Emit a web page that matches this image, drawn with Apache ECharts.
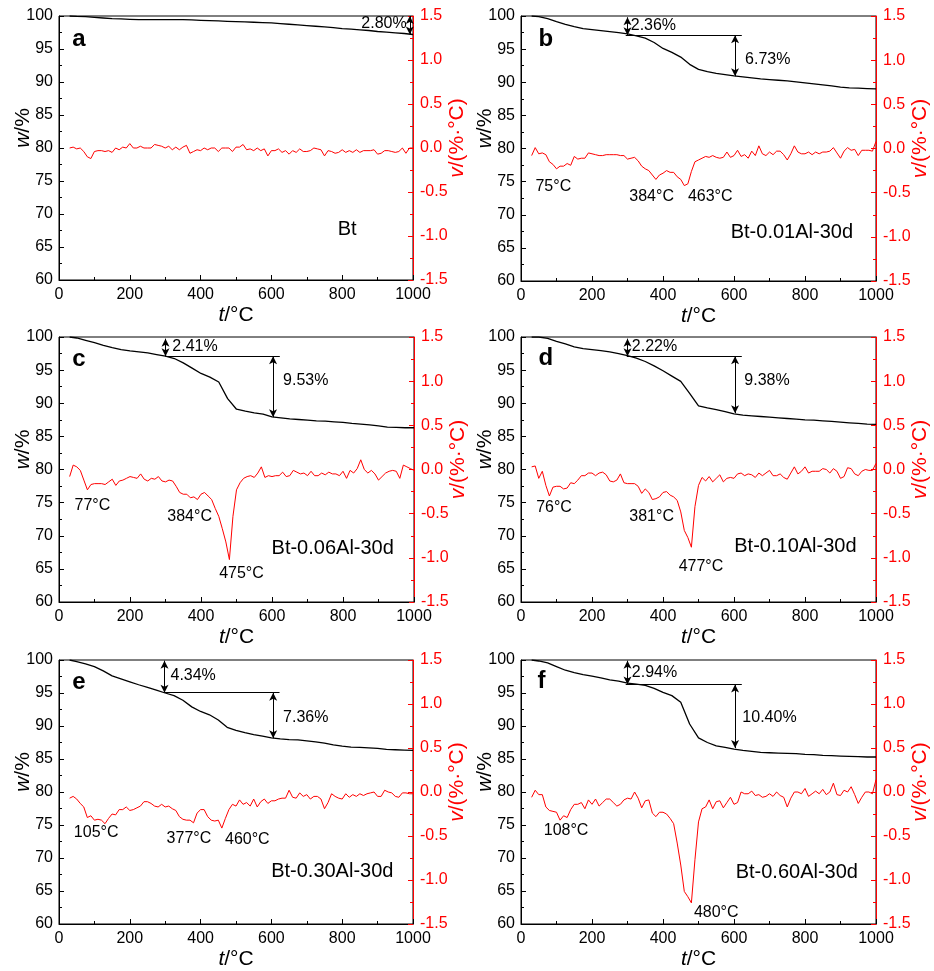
<!DOCTYPE html>
<html lang="en">
<head>
<meta charset="UTF-8">
<title>TG / DTG</title>
<script src="https://cdn.jsdelivr.net/npm/echarts@6/dist/echarts.min.js"></script>
<style>
    html, body { margin: 0; padding: 0; background: #fff; }
    #chart { width: 934px; height: 971px; }
</style>
</head>
<body>
<div id="chart"></div>
<script type="text/javascript">
// temperature grid of the DTG curves (°C)
var temps = [30,40,50,60,70,80,90,100,110,120,130,140,150,160,170,180,190,200,210,220,
    230,240,250,260,270,280,290,300,310,320,330,340,350,360,370,380,390,400,410,420,
    430,440,450,460,470,480,490,500,510,520,530,540,550,560,570,580,590,600,610,620,
    630,640,650,660,670,680,690,700,710,720,730,740,750,760,770,780,790,800,810,820,
    830,840,850,860,870,880,890,900,910,920,930,940,950,960,970,980,990,1000];
// temperature grid of the TG curves (°C)
var wTemps = [30,50,75,100,125,150,175,200,225,250,275,300,325,350,375,400,425,450,475,500,
    525,550,575,600,625,650,675,700,725,750,775,800,825,850,875,900,925,950,975,1000];

// TG: mass w/%
var wA = [100,99.95,99.9,99.8,99.7,99.6,99.55,99.5,99.45,99.45,99.45,99.45,99.45,99.45,99.4,99.35,99.3,99.25,99.2,99.15,
    99.1,99.05,99.0,98.95,98.85,98.75,98.65,98.55,98.45,98.35,98.25,98.1,98.0,97.9,97.8,97.65,97.55,97.45,97.35,97.2];
var wB = [100,99.9,99.6,99.15,98.75,98.4,98.1,97.95,97.8,97.65,97.5,97.3,97.0,96.65,96.0,95.1,94.5,93.8,92.7,91.95,
    91.6,91.35,91.15,90.95,90.8,90.65,90.5,90.4,90.3,90.2,90.05,89.9,89.75,89.6,89.45,89.25,89.15,89.1,89.05,89.0];
var wC = [100,99.85,99.5,99.15,98.75,98.4,98.1,97.9,97.75,97.6,97.35,97.1,96.75,96.1,95.3,94.5,93.95,93.2,90.7,89.1,
    88.8,88.55,88.35,87.95,87.8,87.65,87.55,87.45,87.35,87.3,87.2,87.1,86.95,86.85,86.75,86.6,86.4,86.35,86.3,86.3];
var wD = [100,100,99.8,99.35,98.95,98.5,98.25,98.1,97.95,97.75,97.5,97.2,96.8,96.3,95.65,94.9,94.1,93.3,91.5,89.6,
    89.3,89.05,88.75,88.4,88.2,88.1,88.0,87.9,87.8,87.7,87.6,87.5,87.45,87.35,87.25,87.15,87.05,86.95,86.85,86.8];
var wE = [100,99.75,99.4,99.0,98.35,97.6,97.15,96.7,96.25,95.85,95.45,95.0,94.6,93.9,92.9,92.2,91.7,90.9,89.8,89.35,
    89.0,88.7,88.45,88.2,88.05,87.95,87.9,87.75,87.6,87.4,87.15,86.95,86.8,86.75,86.7,86.6,86.45,86.4,86.35,86.3];
var wF = [100,99.85,99.55,99.0,98.45,98.1,97.8,97.55,97.3,97.0,96.8,96.5,96.35,96.15,95.7,95.1,94.6,93.6,90.3,88.2,
    87.5,87.0,86.75,86.5,86.3,86.15,86.0,85.95,85.9,85.85,85.8,85.7,85.65,85.55,85.5,85.45,85.4,85.35,85.3,85.3];

// DTG: v/(%·°C)
var vA = [0.00,0.01,-0.01,0.00,-0.04,-0.10,-0.12,-0.04,-0.03,-0.03,
    -0.04,-0.03,-0.05,0.00,-0.02,0.01,0.00,0.05,0.00,0.00,
    0.02,0.00,0.00,0.00,0.04,0.03,0.02,0.00,0.02,-0.02,
    0.01,-0.02,0.01,0.03,-0.06,-0.04,-0.02,-0.03,0.00,-0.02,
    0.00,0.00,-0.04,0.00,0.00,0.00,-0.04,0.01,0.01,0.04,
    -0.02,-0.01,-0.03,0.00,-0.03,-0.01,-0.09,-0.03,-0.03,-0.01,
    -0.05,-0.03,-0.07,-0.03,-0.05,-0.01,-0.04,-0.04,-0.03,0.00,
    -0.01,-0.02,-0.09,-0.03,-0.04,-0.06,-0.05,-0.02,-0.05,-0.03,
    -0.05,-0.02,-0.05,-0.03,-0.03,-0.03,-0.02,-0.07,-0.06,-0.03,
    -0.03,-0.04,-0.05,-0.04,0.00,-0.06,0.00,0.00];
var vB = [-0.08,0.01,-0.06,-0.05,-0.07,-0.15,-0.18,-0.23,-0.20,-0.20,
    -0.17,-0.19,-0.09,-0.12,-0.11,-0.11,-0.05,-0.06,-0.07,-0.08,
    -0.08,-0.07,-0.07,-0.07,-0.07,-0.08,-0.08,-0.12,-0.11,-0.10,
    -0.14,-0.20,-0.23,-0.25,-0.30,-0.35,-0.30,-0.28,-0.25,-0.27,
    -0.27,-0.32,-0.35,-0.42,-0.40,-0.26,-0.15,-0.13,-0.11,-0.09,
    -0.10,-0.08,-0.10,-0.11,-0.10,-0.04,-0.10,-0.08,-0.02,-0.09,
    -0.07,-0.11,-0.03,-0.08,0.03,-0.06,-0.08,-0.04,-0.07,-0.03,
    -0.03,-0.07,-0.13,-0.06,0.03,-0.04,-0.06,-0.06,-0.04,-0.07,
    -0.04,-0.06,-0.04,-0.04,-0.03,0.01,-0.05,-0.11,-0.03,0.01,
    -0.02,-0.01,-0.08,-0.02,-0.02,-0.02,-0.03,0.08];
var vC = [-0.08,0.05,0.03,-0.01,-0.12,-0.23,-0.17,-0.16,-0.16,-0.16,
    -0.17,-0.14,-0.11,-0.18,-0.13,-0.12,-0.10,-0.08,-0.09,-0.10,
    -0.05,-0.11,-0.13,-0.10,-0.11,-0.08,-0.13,-0.14,-0.12,-0.13,
    -0.19,-0.26,-0.28,-0.28,-0.32,-0.31,-0.34,-0.28,-0.26,-0.30,
    -0.34,-0.44,-0.53,-0.67,-0.82,-1.02,-0.53,-0.23,-0.15,-0.10,
    -0.08,-0.07,-0.09,-0.04,0.03,-0.09,-0.07,-0.08,-0.07,-0.07,
    -0.03,-0.08,-0.07,-0.01,-0.03,-0.05,-0.04,-0.07,-0.02,-0.07,
    -0.07,-0.04,-0.06,-0.03,-0.05,-0.05,-0.07,-0.02,-0.10,-0.01,
    -0.04,0.01,0.11,0.00,-0.04,-0.01,-0.05,-0.12,-0.08,-0.04,
    -0.02,-0.01,-0.02,-0.10,0.05,0.03,0.01,-0.01];
var vD = [0.03,0.04,-0.10,-0.02,-0.18,-0.30,-0.20,-0.19,-0.19,-0.22,
    -0.21,-0.15,-0.16,-0.12,-0.07,-0.07,-0.04,-0.04,-0.07,-0.04,
    -0.03,-0.06,-0.13,-0.14,-0.12,-0.05,-0.15,-0.16,-0.16,-0.16,
    -0.19,-0.27,-0.22,-0.26,-0.34,-0.33,-0.31,-0.26,-0.25,-0.29,
    -0.31,-0.35,-0.48,-0.69,-0.77,-0.88,-0.42,-0.18,-0.09,-0.13,
    -0.08,-0.14,-0.10,-0.06,-0.14,-0.10,-0.09,-0.10,-0.05,-0.04,
    -0.07,-0.05,-0.06,-0.09,-0.04,-0.07,-0.04,-0.01,-0.07,-0.07,
    -0.05,-0.09,-0.11,-0.04,0.03,-0.05,-0.02,0.03,-0.04,-0.02,
    -0.02,-0.02,0.01,0.00,-0.04,0.01,-0.02,-0.10,-0.08,0.02,
    0.01,-0.05,-0.07,-0.02,0.00,-0.01,-0.01,0.07];
var vE = [-0.07,-0.05,-0.08,-0.13,-0.17,-0.29,-0.27,-0.32,-0.31,-0.32,
    -0.36,-0.30,-0.25,-0.26,-0.20,-0.20,-0.17,-0.21,-0.20,-0.18,
    -0.16,-0.11,-0.11,-0.13,-0.16,-0.17,-0.14,-0.17,-0.16,-0.19,
    -0.21,-0.28,-0.31,-0.32,-0.32,-0.35,-0.24,-0.20,-0.20,-0.28,
    -0.32,-0.33,-0.32,-0.41,-0.30,-0.20,-0.14,-0.16,-0.09,-0.14,
    -0.12,-0.16,-0.08,-0.17,-0.11,-0.08,-0.13,-0.10,-0.10,-0.08,
    -0.07,-0.07,0.02,-0.06,-0.07,-0.01,-0.05,-0.03,-0.08,-0.05,
    -0.05,-0.08,-0.19,-0.12,-0.02,-0.05,-0.07,-0.08,-0.02,-0.06,
    -0.03,-0.05,-0.02,-0.04,-0.02,-0.01,0.00,-0.05,-0.05,0.02,
    0.00,-0.01,-0.05,-0.06,-0.01,-0.01,-0.02,-0.02];
var vF = [-0.06,0.02,-0.03,-0.03,-0.17,-0.21,-0.22,-0.23,-0.32,-0.27,
    -0.29,-0.20,-0.14,-0.14,-0.12,-0.19,-0.09,-0.14,-0.08,-0.16,
    -0.12,-0.08,-0.08,-0.12,-0.16,-0.14,-0.09,-0.07,-0.08,0.00,
    -0.07,-0.18,-0.10,-0.09,-0.24,-0.28,-0.23,-0.23,-0.25,-0.30,
    -0.36,-0.58,-0.83,-1.13,-1.19,-1.26,-0.77,-0.34,-0.19,-0.17,
    -0.09,-0.19,-0.11,-0.10,-0.18,-0.12,-0.06,-0.14,-0.12,0.00,
    -0.02,-0.02,0.01,-0.04,-0.03,-0.06,-0.05,-0.02,-0.05,0.00,
    -0.04,-0.06,-0.17,-0.07,0.00,0.00,-0.02,0.04,-0.05,-0.02,
    0.01,-0.02,0.03,-0.03,0.00,0.10,-0.03,-0.04,0.02,0.00,
    0.06,-0.03,-0.13,-0.06,0.00,0.00,-0.02,0.14];

var wSets = [wA, wB, wC, wD, wE, wF];
var vSets = [vA, vB, vC, vD, vE, vF];

// annotations (t, w)
var letters = ['a', 'b', 'c', 'd', 'e', 'f'];
var letterAt = [[56, 96.4], [70, 96.5], [56, 96.6], [70, 96.7], [56, 96.6], [58, 96.8]];
var sampleNames = ['Bt', 'Bt-0.01Al-30d', 'Bt-0.06Al-30d', 'Bt-0.10Al-30d', 'Bt-0.30Al-30d', 'Bt-0.60Al-30d'];
var sampleAt = [[814, 67.6], [763, 67.3], [771, 68.05], [773, 68.45], [772, 67.9], [777, 67.8]];
// horizontal reference lines: [t start, t end, w]
var stepLines = [[], [[295, 622, 97.08]], [[300, 622, 97.08]], [[298, 622, 97.08]], [[298, 623, 95.05]], [[295, 622, 96.3]]];
// double arrows: [t, w top, w bottom]
var lossArrows = [
    [[991, 100, 97.2]],
    [[300, 99.8, 97.08], [603, 97.08, 90.9]],
    [[300, 99.75, 97.08], [603, 97.08, 87.9]],
    [[300, 99.75, 97.08], [603, 97.08, 88.5]],
    [[298, 99.9, 95.05], [605, 95.05, 88.15]],
    [[300, 99.9, 96.3], [603, 96.3, 86.65]]
];
var notes = [
    [[918, 98.9, '2.80%']],
    [[373, 98.5, '2.36%'], [695, 93.35, '6.73%'], [91, 74.2, '75°C'], [368, 72.8, '384°C'], [533, 72.8, '463°C']],
    [[383, 98.5, '2.41%'], [695, 93.4, '9.53%'], [94, 74.6, '77°C'], [368, 72.9, '384°C'], [514, 64.3, '475°C']],
    [[376, 98.5, '2.22%'], [693, 93.4, '9.38%'], [93, 74.2, '76°C'], [368, 72.9, '381°C'], [507, 65.4, '477°C']],
    [[379, 97.6, '4.34%'], [697, 91.3, '7.36%'], [105, 73.9, '105°C'], [367, 72.9, '377°C'], [532, 72.8, '460°C']],
    [[376, 98.1, '2.94%'], [700, 91.3, '10.40%'], [127, 74.1, '108°C'], [550, 61.7, '480°C']]
];

var FONT = 'Liberation Sans, Arial, sans-serif';
var RED = '#ff0000';
// plot boxes [left, top, width, height]
var boxes = [[59, 16, 354, 264], [521, 16, 355, 265], [59, 337, 355, 265], [521, 337, 355, 265], [59, 660, 354, 264], [521, 660, 355, 264]];

var grid = [], xAxis = [], yAxis = [], series = [];

for (var i = 0; i < 6; i++) {
    var b = boxes[i];
    grid.push({left: b[0], top: b[1], width: b[2], height: b[3], show: true, borderColor: '#000', borderWidth: 1});

    xAxis.push({
        gridIndex: i, type: 'value', min: 0, max: 1000, interval: 200,
        name: '{i|t}/°C', nameLocation: 'middle', nameGap: 25,
        nameTextStyle: {fontFamily: FONT, fontSize: 21, color: '#000',
            rich: {i: {fontFamily: FONT, fontSize: 21, fontStyle: 'italic', color: '#000'}}},
        axisLine: {show: true, onZero: false, lineStyle: {color: '#000', width: 1}},
        axisTick: {show: true, inside: true, length: 5, lineStyle: {color: '#000'}},
        minorTick: {show: true, splitNumber: 2, length: 3, lineStyle: {color: '#000'}},
        splitLine: {show: false},
        axisLabel: {fontFamily: FONT, fontSize: 16, color: '#000', margin: 7,
            formatter: function (val) { return String(val); }}
    });

    yAxis.push({
        gridIndex: i, type: 'value', position: 'left', min: 60, max: 100, interval: 5,
        name: '{i|w}/%', nameLocation: 'middle', nameGap: 25, nameMoveOverlap: false,
        nameTextStyle: {fontFamily: FONT, fontSize: 21, color: '#000', padding: [0, 0, 0, 40],
            rich: {i: {fontFamily: FONT, fontSize: 21, fontStyle: 'italic', color: '#000'}}},
        axisLine: {show: true, onZero: false, lineStyle: {color: '#000', width: 1}},
        axisTick: {show: true, inside: true, length: 5, lineStyle: {color: '#000'}},
        minorTick: {show: true, splitNumber: 2, length: 3, lineStyle: {color: '#000'}},
        splitLine: {show: false},
        axisLabel: {fontFamily: FONT, fontSize: 16, color: '#000', margin: 6}
    });

    yAxis.push({
        gridIndex: i, type: 'value', position: 'right', min: -1.5, max: 1.5, interval: 0.5,
        name: '{i|v}/(%·°C)', nameLocation: 'middle', nameGap: 34, nameMoveOverlap: false,
        nameTextStyle: {fontFamily: FONT, fontSize: 21, color: RED, padding: [0, 0, 0, 20],
            rich: {i: {fontFamily: FONT, fontSize: 21, fontStyle: 'italic', color: RED}}},
        axisLine: {show: true, onZero: false, lineStyle: {color: RED, width: 1}},
        axisTick: {show: true, inside: true, length: 5, lineStyle: {color: RED}},
        minorTick: {show: true, splitNumber: 2, length: 3, lineStyle: {color: RED}},
        splitLine: {show: false},
        axisLabel: {fontFamily: FONT, fontSize: 16, color: RED, margin: 7,
            formatter: function (val) { return val.toFixed(1); }}
    });

    var lines = [];
    stepLines[i].forEach(function (s) {
        lines.push([{coord: [s[0], s[2]]}, {coord: [s[1], s[2]]}]);
    });
    lossArrows[i].forEach(function (a) {
        lines.push([{coord: [a[0], a[1]], symbol: 'arrow'}, {coord: [a[0], a[2]], symbol: 'arrow'}]);
    });

    var w = wSets[i], v = vSets[i];
    series.push({
        type: 'line', xAxisIndex: i, yAxisIndex: 2 * i,
        data: wTemps.map(function (t, k) { return [t, w[k]]; }),
        symbol: 'none', lineStyle: {color: '#000', width: 1.3},
        markLine: {
            silent: true, symbol: ['none', 'none'], symbolSize: [6, 8],
            label: {show: false}, lineStyle: {color: '#000', width: 1, type: 'solid'},
            emphasis: {disabled: true}, animation: false, data: lines
        }
    });
    series.push({
        type: 'line', xAxisIndex: i, yAxisIndex: 2 * i + 1,
        data: temps.map(function (t, k) { return [t, v[k]]; }),
        symbol: 'none', lineStyle: {color: RED, width: 1}
    });

    var texts = notes[i].map(function (n) {
        return {name: n[2], value: [n[0], n[1]], label: {fontSize: 16}};
    });
    texts.push({name: sampleNames[i], value: sampleAt[i], label: {fontSize: 20}});
    texts.push({name: letters[i], value: letterAt[i], label: {fontSize: 24, fontWeight: 'bold'}});
    series.push({
        type: 'scatter', xAxisIndex: i, yAxisIndex: 2 * i, silent: true,
        symbolSize: 1, itemStyle: {color: '#fff', opacity: 0},
        label: {show: true, position: 'inside', formatter: '{b}', fontFamily: FONT,
            color: '#000', opacity: 1, textBorderWidth: 0},
        data: texts
    });
}

var chart = echarts.init(document.getElementById('chart'));
chart.setOption({
    animation: false,
    backgroundColor: '#fff',
    grid: grid,
    xAxis: xAxis,
    yAxis: yAxis,
    series: series
});
</script>
</body>
</html>
